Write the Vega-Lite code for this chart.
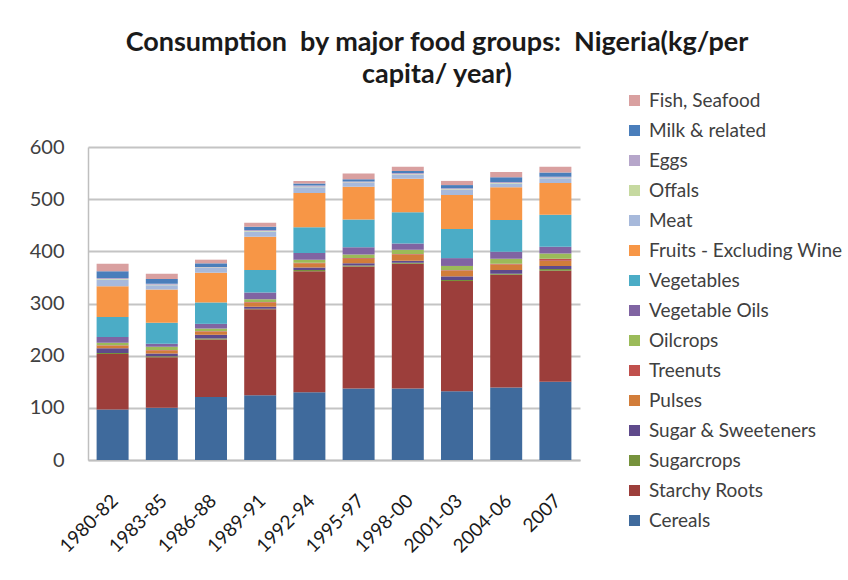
{
  "$schema": "https://vega.github.io/schema/vega-lite/v6.json",
  "autosize": "none",
  "width": 492,
  "height": 313,
  "padding": {"left": 88, "top": 147, "right": 268, "bottom": 120},
  "background": "white",
  "datasets": {
    "consumption": [
      {"period": "1980-82", "Cereals": 97, "Starchy Roots": 106, "Sugarcrops": 2, "Sugar & Sweeteners": 9, "Pulses": 5, "Treenuts": 1, "Oilcrops": 5, "Vegetable Oils": 11, "Vegetables": 38, "Fruits - Excluding Wine": 59, "Meat": 13, "Offals": 1, "Eggs": 2, "Milk & related": 13, "Fish, Seafood": 14},
      {"period": "1983-85", "Cereals": 100, "Starchy Roots": 97, "Sugarcrops": 2, "Sugar & Sweeteners": 5, "Pulses": 6, "Treenuts": 1, "Oilcrops": 6, "Vegetable Oils": 6, "Vegetables": 40, "Fruits - Excluding Wine": 64, "Meat": 8, "Offals": 1, "Eggs": 2, "Milk & related": 9, "Fish, Seafood": 10},
      {"period": "1986-88", "Cereals": 121, "Starchy Roots": 110, "Sugarcrops": 2, "Sugar & Sweeteners": 7, "Pulses": 6, "Treenuts": 1, "Oilcrops": 5, "Vegetable Oils": 9, "Vegetables": 41, "Fruits - Excluding Wine": 57, "Meat": 9, "Offals": 1, "Eggs": 1, "Milk & related": 7, "Fish, Seafood": 7},
      {"period": "1989-91", "Cereals": 124, "Starchy Roots": 165, "Sugarcrops": 1, "Sugar & Sweeteners": 4, "Pulses": 8, "Treenuts": 1, "Oilcrops": 5, "Vegetable Oils": 13, "Vegetables": 43, "Fruits - Excluding Wine": 64, "Meat": 10, "Offals": 1, "Eggs": 2, "Milk & related": 6, "Fish, Seafood": 8},
      {"period": "1992-94", "Cereals": 130, "Starchy Roots": 232, "Sugarcrops": 2, "Sugar & Sweeteners": 5, "Pulses": 8, "Treenuts": 1, "Oilcrops": 6, "Vegetable Oils": 13, "Vegetables": 49, "Fruits - Excluding Wine": 66, "Meat": 11, "Offals": 1, "Eggs": 2, "Milk & related": 4, "Fish, Seafood": 5},
      {"period": "1995-97", "Cereals": 137, "Starchy Roots": 234, "Sugarcrops": 2, "Sugar & Sweeteners": 4, "Pulses": 9, "Treenuts": 1, "Oilcrops": 7, "Vegetable Oils": 14, "Vegetables": 53, "Fruits - Excluding Wine": 63, "Meat": 7, "Offals": 1, "Eggs": 2, "Milk & related": 4, "Fish, Seafood": 11},
      {"period": "1998-00", "Cereals": 137, "Starchy Roots": 239, "Sugarcrops": 2, "Sugar & Sweeteners": 4, "Pulses": 12, "Treenuts": 1, "Oilcrops": 8, "Vegetable Oils": 12, "Vegetables": 60, "Fruits - Excluding Wine": 64, "Meat": 8, "Offals": 1, "Eggs": 2, "Milk & related": 4, "Fish, Seafood": 8},
      {"period": "2001-03", "Cereals": 132, "Starchy Roots": 211, "Sugarcrops": 2, "Sugar & Sweeteners": 7, "Pulses": 11, "Treenuts": 1, "Oilcrops": 8, "Vegetable Oils": 15, "Vegetables": 56, "Fruits - Excluding Wine": 65, "Meat": 10, "Offals": 1, "Eggs": 2, "Milk & related": 6, "Fish, Seafood": 8},
      {"period": "2004-06", "Cereals": 139, "Starchy Roots": 216, "Sugarcrops": 2, "Sugar & Sweeteners": 7, "Pulses": 11, "Treenuts": 1, "Oilcrops": 10, "Vegetable Oils": 13, "Vegetables": 61, "Fruits - Excluding Wine": 63, "Meat": 7, "Offals": 1, "Eggs": 2, "Milk & related": 9, "Fish, Seafood": 10},
      {"period": "2007", "Cereals": 150, "Starchy Roots": 213, "Sugarcrops": 3, "Sugar & Sweeteners": 6, "Pulses": 10, "Treenuts": 4, "Oilcrops": 10, "Vegetable Oils": 13, "Vegetables": 61, "Fruits - Excluding Wine": 61, "Meat": 9, "Offals": 1, "Eggs": 2, "Milk & related": 8, "Fish, Seafood": 11}
    ],
    "groups": [
      {"group": "Cereals", "rank": 1},
      {"group": "Starchy Roots", "rank": 2},
      {"group": "Sugarcrops", "rank": 3},
      {"group": "Sugar & Sweeteners", "rank": 4},
      {"group": "Pulses", "rank": 5},
      {"group": "Treenuts", "rank": 6},
      {"group": "Oilcrops", "rank": 7},
      {"group": "Vegetable Oils", "rank": 8},
      {"group": "Vegetables", "rank": 9},
      {"group": "Fruits - Excluding Wine", "rank": 10},
      {"group": "Meat", "rank": 11},
      {"group": "Offals", "rank": 12},
      {"group": "Eggs", "rank": 13},
      {"group": "Milk & related", "rank": 14},
      {"group": "Fish, Seafood", "rank": 15}
    ]
  },
  "data": {"name": "consumption"},
  "transform": [
    {"fold": ["Cereals", "Starchy Roots", "Sugarcrops", "Sugar & Sweeteners", "Pulses", "Treenuts", "Oilcrops", "Vegetable Oils", "Vegetables", "Fruits - Excluding Wine", "Meat", "Offals", "Eggs", "Milk & related", "Fish, Seafood"], "as": ["group", "value"]},
    {"lookup": "group", "from": {"data": {"name": "groups"}, "key": "group", "fields": ["rank"]}}
  ],
  "title": {
    "text": ["Consumption \u00a0by major food groups: \u00a0Nigeria(kg/per", "capita/ year)"],
    "font": "Lato",
    "fontSize": 27,
    "fontWeight": "bold",
    "color": "#1a1a1a",
    "anchor": "middle",
    "frame": "group",
    "dx": 103,
    "offset": 2,
    "lineHeight": 32
  },
  "mark": {"type": "bar"},
  "encoding": {
    "x": {
      "field": "period",
      "type": "nominal",
      "sort": null,
      "title": null,
      "scale": {"paddingInner": 0.35, "paddingOuter": 0.175},
      "axis": {
        "labelAngle": -45,
        "labelFont": "Lato",
        "labelFontSize": 19,
        "labelColor": "#1a1a1a",
        "ticks": false,
        "labelPadding": 31,
        "labelOffset": -4,
        "domainColor": "#BFBFBF",
        "domainWidth": 1.5
      }
    },
    "y": {
      "field": "value",
      "type": "quantitative",
      "stack": "zero",
      "title": null,
      "scale": {"domain": [0, 600], "nice": false},
      "axis": {
        "values": [0, 100, 200, 300, 400, 500, 600],
        "labelFont": "Lato",
        "labelFontSize": 20,
        "labelColor": "#404040",
        "ticks": false,
        "labelPadding": 24,
        "domainColor": "#BFBFBF",
        "domainWidth": 1.5,
        "gridColor": "#C4C4C4",
        "gridWidth": 2
      }
    },
    "order": {"field": "rank", "type": "quantitative", "sort": "ascending"},
    "color": {
      "field": "group",
      "type": "nominal",
      "title": null,
      "scale": {
        "domain": ["Fish, Seafood", "Milk & related", "Eggs", "Offals", "Meat", "Fruits - Excluding Wine", "Vegetables", "Vegetable Oils", "Oilcrops", "Treenuts", "Pulses", "Sugar & Sweeteners", "Sugarcrops", "Starchy Roots", "Cereals"],
        "range": ["#D9A0A0", "#4A7EBB", "#B6A6CA", "#C6D9A0", "#A7B9DB", "#F79646", "#4BACC6", "#8064A2", "#9BBB59", "#C0504D", "#D27D3A", "#5F4A8B", "#76923C", "#9C3E3B", "#3F6A9C"]
      },
      "legend": {
        "orient": "none",
        "legendX": 537,
        "legendY": -56,
        "padding": 0,
        "symbolType": "square",
        "symbolSize": 121,
        "symbolStrokeWidth": 0,
        "labelFont": "Lato",
        "labelFontSize": 19,
        "labelColor": "#404040",
        "labelOffset": 5,
        "rowPadding": 10,
        "labelLimit": 300
      }
    }
  },
  "config": {
    "view": {"stroke": null},
    "font": "Lato"
  }
}
